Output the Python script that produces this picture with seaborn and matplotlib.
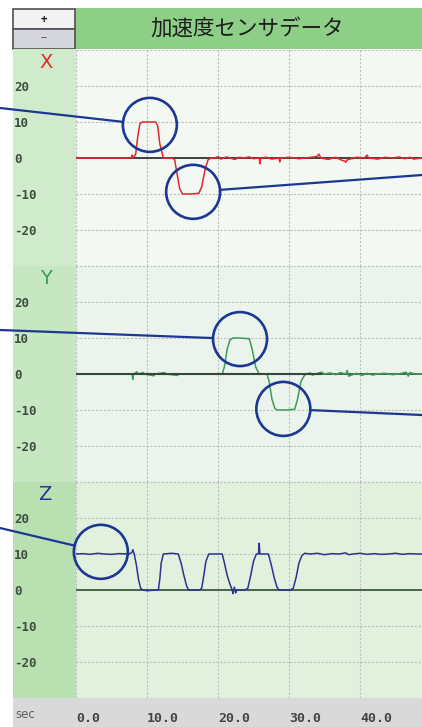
import matplotlib
matplotlib.use("Agg")
import matplotlib.pyplot as plt
import seaborn as sns
import pandas as pd
import numpy as np
from matplotlib.patches import Rectangle, Circle

# --- veri ---
x_t_events = [0.0, 7.8, 7.9, 8.0, 8.4, 8.7, 9.0, 9.3, 10.0, 11.2, 11.5, 11.8, 12.3,
              13.6, 13.9, 14.2, 14.6, 15.0, 16.0, 17.3, 17.7, 18.2, 18.6, 19.0]
x_v_events = [0, 0, 0.8, 0, 1, 6, 9.5, 10, 10, 10, 9, 4, 0,
              0, -0.5, -4, -8.5, -10, -10, -9.8, -8, -3, -0.5, 0]
x_t_noise = [19.6, 20.0, 20.4, 21.2, 21.6, 22.4, 23.0, 23.6, 24.4, 25.0,
             25.8, 25.9, 26.0, 26.8, 27.6, 28.6, 28.7, 28.8, 30.0, 31.4,
             32.2, 33.5, 34.0, 34.2, 34.5, 35.5, 36.6, 37.4, 37.9, 38.0,
             38.2, 39.5, 40.6, 41.0, 41.2, 42.5, 43.5, 44.6, 45.5, 46.3,
             47.0, 47.6, 48.7]
x_v_noise = [0, 0.4, -0.3, 0.3, 0, -0.4, 0.2, 0, 0.3, -0.2,
             0, -1.6, 0, 0.2, -0.3, 0, -1.1, 0, 0.2, -0.2,
             0, 0.3, 0.5, 1.1, 0, -0.4, 0.2, -0.6, -0.9, -1.2,
             -0.5, 0.2, 0, 0.8, 0, -0.3, 0.2, 0, 0.3, -0.2,
             0.2, -0.3, 0]

y_t_events = [0.0, 7.9, 8.0, 8.1, 8.6, 8.7, 9.5, 9.6, 11.0, 11.1,
              12.5, 12.6, 14.3, 14.4, 20.6, 20.9, 21.3, 21.7, 22.1, 23.0,
              24.4, 24.8, 25.3, 25.8, 26.9, 27.2, 27.6, 28.0, 28.3, 29.5,
              30.8, 31.2, 31.7, 32.2, 32.5]
y_v_events = [0, 0, -1.5, 0, 0.6, 0, 0.4, 0, -0.5, 0,
              0.4, 0, -0.4, 0, 0, 2, 7, 9.5, 10, 10,
              9.8, 7, 2, 0, 0, -2, -7, -9.5, -10, -10,
              -9.8, -7, -2, -0.3, 0]
y_t_noise = [33.0, 33.3, 34.0, 34.6, 35.0, 35.8, 36.6, 37.2, 38.0, 38.2,
             38.4, 39.5, 40.3, 41.0, 41.8, 42.4, 43.5, 44.6, 45.6, 46.5,
             46.8, 47.0, 47.8, 48.7]
y_v_noise = [0.3, -0.3, 0.2, 0.5, 0, 0.3, -0.2, 0.4, 0, 1.0,
             -0.6, 0.2, -0.4, 0.2, -0.3, 0, 0.2, -0.2, 0.1, 0.5,
             -0.6, 0.4, 0, 0]

z_t_events = [0.0, 1.0, 2.0, 3.0, 4.0, 5.0, 6.0, 7.5, 7.9, 8.0,
              8.2, 8.5, 8.8, 9.1, 9.4, 10.0, 11.3, 11.6, 11.8, 12.0,
              12.3, 13.5, 14.4, 14.8, 15.2, 15.6, 15.9, 17.4, 17.7, 18.0,
              18.3, 18.7, 20.6, 20.9, 21.3, 21.7, 22.0, 22.1, 22.3, 22.5,
              22.6, 23.8, 24.2, 24.6, 25.0, 25.4, 25.7, 25.8, 25.9, 27.1,
              27.5, 27.9, 28.3, 28.6, 30.2, 30.6, 31.0, 31.4, 31.8, 32.2]
z_v_events = [10, 10.1, 9.9, 10.2, 10, 9.9, 10.1, 10, 10.5, 11.2,
              10, 7, 3, 0.5, 0, -0.2, 0, 0, 3, 7.5,
              10, 10.2, 10, 7.5, 4, 1, 0, 0, 0.5, 4,
              8, 10, 10, 7.5, 4, 1.5, 0, -1, 0.8, -0.8,
              0, 0, 0.5, 4, 8, 10, 10, 13, 10, 10,
              7, 3.5, 0.8, 0, 0, 0.5, 3.5, 7.5, 9.5, 10.2]
z_t_noise = [33.0, 34.0, 35.0, 36.0, 37.0, 38.0, 38.4, 39.0, 40.0, 41.0,
             42.0, 43.0, 44.0, 45.0, 46.0, 47.0, 48.0, 48.7]
z_v_noise = [10, 10.2, 9.8, 10.1, 10, 10.3, 9.8, 10, 10.2, 9.9,
             10.1, 9.9, 10, 10.2, 9.9, 10.1, 10, 10]

y_tick_vals = [-30, -20, -10, 0, 10, 20, 30]
y_tick_labels = ["", "-20", "-10", "0", "10", "20", ""]
x_tick_vals = [0, 10, 20, 30, 40]
x_tick_labels = ["0.0", "10.0", "20.0", "30.0", "40.0"]

# işaret daireleri (panel, zaman, değer)
circ_panel = ["X", "X", "Y", "Y", "Z"]
circ_t = [10.4, 16.5, 23.1, 29.2, 3.5]
circ_v = [9.2, -9.4, 9.7, -9.7, 10.6]
circ_edge_x = [0, 422, 0, 422, 0]
circ_edge_y = [108, 175, 330, 415, 528]

# --- çizim ---
sns.set_theme(style="white")
plt.rcParams["font.family"] = ["Noto Sans CJK JP", "DejaVu Sans"]

W, H = 422, 727
fig = plt.figure(figsize=(W / 100, H / 100), dpi=100)
fig.patch.set_facecolor("white")


def box(x0, y0, x1, y1):
    return [x0 / W, 1 - y1 / H, (x1 - x0) / W, (y1 - y0) / H]


def rect(x0, y0, x1, y1, **kw):
    b = box(x0, y0, x1, y1)
    fig.patches.append(Rectangle((b[0], b[1]), b[2], b[3], transform=fig.transFigure,
                                 zorder=-5, **kw))


# başlık ve düğmeler
rect(75, 8, 422, 49, fc="#8dcf86", ec="none")
rect(13, 9, 75, 29, fc="#f2f2f2", ec="#505050", lw=1.2)
rect(13, 29, 75, 49, fc="#d6d6de", ec="#505050", lw=1.2)
fig.text(44 / W, 1 - 19 / H, "+", ha="center", va="center", fontsize=8, color="#222222", fontweight="bold")
fig.text(44 / W, 1 - 39 / H, "−", ha="center", va="center", fontsize=8, color="#444444")
fig.text(247 / W, 1 - 29 / H, "加速度センサデータ", ha="center", va="center", fontsize=15.5, color="#1e1e1e")

# sol şerit ve alt çubuk
rect(13, 49, 76, 266, fc="#d0ebcb", ec="none")
rect(13, 266, 76, 482, fc="#c6e7c1", ec="none")
rect(13, 482, 76, 698, fc="#b8e0b1", ec="none")
rect(13, 698, 422, 727, fc="#d9d9d9", ec="none")
fig.text(15 / W, 1 - 715 / H, "sec", ha="left", va="center", fontsize=8.5, color="#606060", family="DejaVu Sans")

panels = [
    ("X", x_t_events + x_t_noise, x_v_events + x_v_noise, "#e5262d", "#f3f8f3", 50, "#333333", (46, 62)),
    ("Y", y_t_events + y_t_noise, y_v_events + y_v_noise, "#3c9c58", "#eaf4ec", 266, "#34483a", (46, 278)),
    ("Z", z_t_events + z_t_noise, z_v_events + z_v_noise, "#2c3390", "#e2f1de", 482, "#3f5a40", (45, 495)),
]

axes = {}
for name, t, v, color, bg, top, zcol, lab_pos in panels:
    ax = fig.add_axes(box(76, top, 422, top + 216))
    axes[name] = ax
    ax.set_facecolor(bg)
    ax.set_axisbelow(True)
    df = pd.DataFrame({"t": t, "v": v})
    if name == "Y":
        ax.plot([0, 34.5], [0, 0], color=zcol, lw=1.5, zorder=4)
        ax.axhline(0, color=zcol, lw=1.2, zorder=2)
    else:
        ax.axhline(0, color=zcol, lw=1.3, zorder=2)
    sns.lineplot(data=df, x="t", y="v", ax=ax, color=color, lw=1.1,
                 estimator=None, sort=False, zorder=3)
    ax.set_xlim(0, 48.73)
    ax.set_ylim(-30, 30)
    ax.set_xlabel("")
    ax.set_ylabel("")
    ax.set_yticks(y_tick_vals)
    ax.set_yticklabels(y_tick_labels)
    ax.set_xticks(x_tick_vals)
    ax.grid(True, color="#bcc0bc", ls=(0, (2, 1.5)), lw=0.8)
    for s in ax.spines.values():
        s.set_visible(False)
    ax.tick_params(axis="y", length=0, pad=62 * 0.72, labelsize=9, labelcolor="#3f4d3f")
    for lab in ax.get_yticklabels():
        lab.set_horizontalalignment("left")
        lab.set_fontfamily("DejaVu Sans Mono")
        lab.set_fontweight("bold")
    if name == "Z":
        ax.set_xticklabels(x_tick_labels)
        ax.tick_params(axis="x", length=0, pad=10, labelsize=9.5, labelcolor="#444444")
        for lab in ax.get_xticklabels():
            lab.set_horizontalalignment("left")
            lab.set_fontfamily("DejaVu Sans Mono")
            lab.set_fontweight("bold")
    else:
        ax.tick_params(axis="x", length=0, labelbottom=False)
    fig.text(lab_pos[0] / W, 1 - lab_pos[1] / H, name, ha="center", va="center",
             fontsize=14, color=color, family="DejaVu Sans")

# daireler ve çizgiler
ov = fig.add_axes([0, 0, 1, 1], zorder=10)
ov.set_xlim(0, W)
ov.set_ylim(0, H)
ov.axis("off")
ov.patch.set_alpha(0)
r = 27
for p, ct, cv, ex, ey in zip(circ_panel, circ_t, circ_v, circ_edge_x, circ_edge_y):
    cx, cy = axes[p].transData.transform((ct, cv))
    ov.add_patch(Circle((cx, cy), r, fill=False, ec="#1c3793", lw=1.9))
    ey_d = H - ey
    d = np.array([ex - cx, ey_d - cy])
    d = d / np.hypot(*d)
    ov.plot([cx + r * d[0], ex], [cy + r * d[1], ey_d], color="#1c3793", lw=1.6)

fig.savefig("out.png", dpi=100)
